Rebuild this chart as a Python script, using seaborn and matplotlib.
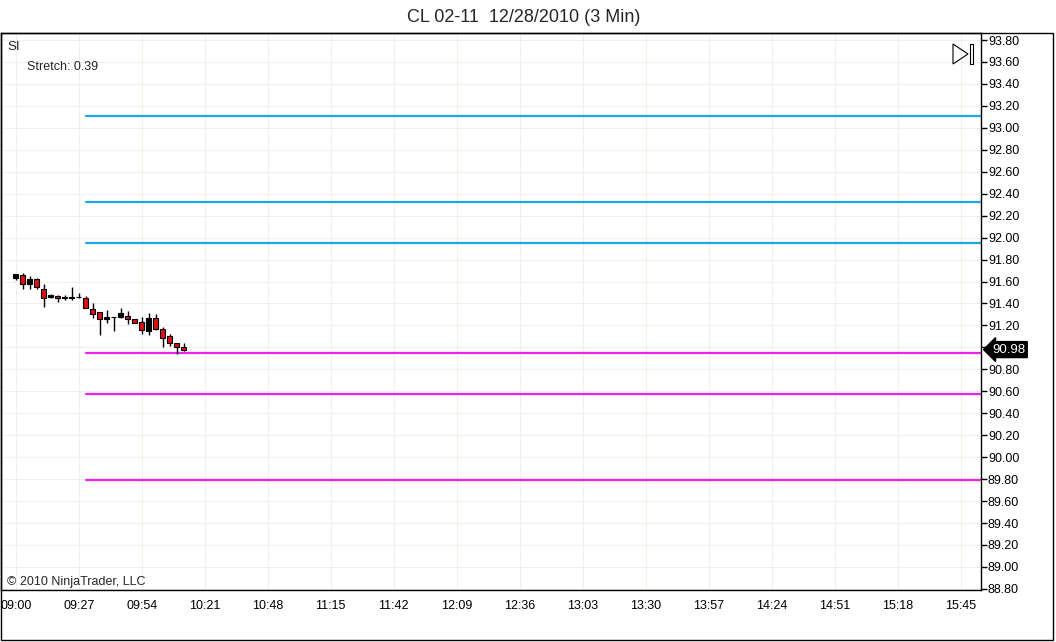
import numpy as np
import pandas as pd
import matplotlib
matplotlib.use('Agg')
import matplotlib.pyplot as plt
import seaborn as sns
from matplotlib.patches import Polygon, Rectangle

# Dados: barras de 3 minutos a partir das 09:00 (OHLC)
aberturas = [91.63, 91.66, 91.58, 91.62, 91.53, 91.46, 91.47, 91.45, 91.45, 91.46, 91.45, 91.35, 91.32,
             91.26, 91.28, 91.28, 91.29, 91.26, 91.23, 91.15, 91.27, 91.17, 91.10, 91.04, 91.00]
maximas = [91.67, 91.68, 91.65, 91.63, 91.58, 91.49, 91.48, 91.48, 91.55, 91.50, 91.47, 91.40, 91.32,
           91.34, 91.28, 91.36, 91.33, 91.26, 91.28, 91.31, 91.30, 91.19, 91.12, 91.04, 91.04]
minimas = [91.61, 91.53, 91.53, 91.53, 91.37, 91.45, 91.41, 91.43, 91.43, 91.45, 91.36, 91.27, 91.11,
           91.22, 91.15, 91.27, 91.21, 91.22, 91.12, 91.11, 91.16, 91.00, 91.01, 90.94, 90.97]
fechamentos = [91.67, 91.58, 91.62, 91.55, 91.45, 91.48, 91.45, 91.46, 91.46, 91.46, 91.36, 91.30, 91.26,
               91.28, 91.28, 91.31, 91.26, 91.22, 91.16, 91.27, 91.17, 91.09, 91.04, 91.00, 90.98]

# Niveis (resistencia em azul, suporte em magenta), a partir da barra das 09:30
resistencias = [93.11, 92.32, 91.95]
suportes = [90.95, 90.58, 89.79]
barra_inicio_niveis = 10
barra_fim = 138

# Rotulos do eixo x (a cada 9 barras = 27 min)
rotulos_x = ['09:00', '09:27', '09:54', '10:21', '10:48', '11:15', '11:42', '12:09', '12:36',
             '13:03', '13:30', '13:57', '14:24', '14:51', '15:18', '15:45']
passo_rotulo = 9

df = pd.DataFrame({'open': aberturas, 'high': maximas, 'low': minimas, 'close': fechamentos})
df['barra'] = np.arange(len(df))
df['alta'] = df['close'] >= df['open']

sns.set_style('white')
plt.rcParams['font.family'] = ['Liberation Sans', 'DejaVu Sans']

W, H = 1056, 642
fig = plt.figure(figsize=(W / 100, H / 100), dpi=100)
ax = fig.add_axes([1 / W, (H - 590) / H, 980 / W, (590 - 33) / H])

# Grade bem clara
ax.set_axisbelow(True)
ax.grid(True, color='#f1efe8', lw=0.8)

# Linhas de nivel
for v in resistencias:
    sns.lineplot(x=[barra_inicio_niveis, barra_fim], y=[v, v], color='#1ca8e4', lw=1.6, ax=ax)
for v in suportes:
    sns.lineplot(x=[barra_inicio_niveis, barra_fim], y=[v, v], color='#ee22ee', lw=1.6, ax=ax)

# Candles
ax.vlines(df['barra'], df['low'], df['high'], color='black', lw=1, zorder=3)
corpo_base = df[['open', 'close']].min(axis=1)
corpo_alt = (df['close'] - df['open']).abs()
cores = np.where(df['alta'], 'black', '#dd1111')
ax.bar(df['barra'], corpo_alt, bottom=corpo_base, width=0.7, color=cores,
       edgecolor='black', lw=0.8, zorder=4)

# Eixos
ax.set_xlim(-2.1, 137.9)
ax.set_ylim(88.79, 93.864)
ax.set_xticks(np.arange(len(rotulos_x)) * passo_rotulo)
ax.set_xticklabels(rotulos_x)
yt = np.round(np.arange(88.80, 93.81, 0.2), 2)
ax.set_yticks(yt)
# o rotulo do ultimo preco cobre o 91.00
ax.set_yticklabels(['' if abs(v - fechamentos[-1]) < 0.05 else '%.2f' % v for v in yt])
ax.yaxis.tick_right()
ax.tick_params(axis='both', direction='out', length=4, width=1, color='black',
               labelsize=9, pad=1, labelcolor='black')
ax.tick_params(axis='x', pad=3)
for s in ax.spines.values():
    s.set_color('black')
    s.set_linewidth(1)
ax.set_xlabel('')
ax.set_ylabel('')

# Rotulo do ultimo preco
ax.annotate('%.2f' % fechamentos[-1], xy=(1.0, fechamentos[-1]), xycoords=('axes fraction', 'data'),
            xytext=(8, 0), textcoords='offset points', va='center', ha='left',
            color='white', fontsize=9.5,
            bbox=dict(boxstyle='larrow,pad=0.15', fc='black', ec='black'),
            annotation_clip=False)

# Moldura externa
fig.patches.append(Rectangle((1 / W, (H - 640) / H), 1052 / W, (640 - 33) / H,
                             transform=fig.transFigure, fill=False, ec='black', lw=1))

# Icone no canto superior direito
def px(x, y):
    return (x / W, 1 - y / H)
fig.patches.append(Polygon([px(953, 44), px(968, 54), px(953, 64)], closed=True,
                           transform=fig.transFigure, fill=False, ec='black', lw=0.8))
fig.patches.append(Rectangle(px(969.5, 64), 3.5 / W, 20 / H,
                             transform=fig.transFigure, fill=False, ec='black', lw=0.8))

# Textos
fig.text(524 / W, 1 - 17 / H, 'CL 02-11  12/28/2010 (3 Min)', ha='center', va='center', fontsize=13)
fig.text(7 / W, 1 - 47 / H, 'SI', ha='left', va='center', fontsize=9.5)
fig.text(27 / W, 1 - 67 / H, 'Stretch: 0.39', ha='left', va='center', fontsize=9)
fig.text(7 / W, 1 - 582 / H, '\u00a9 2010 NinjaTrader, LLC', ha='left', va='center', fontsize=9)

fig.savefig('out.png', dpi=100, facecolor='white')
